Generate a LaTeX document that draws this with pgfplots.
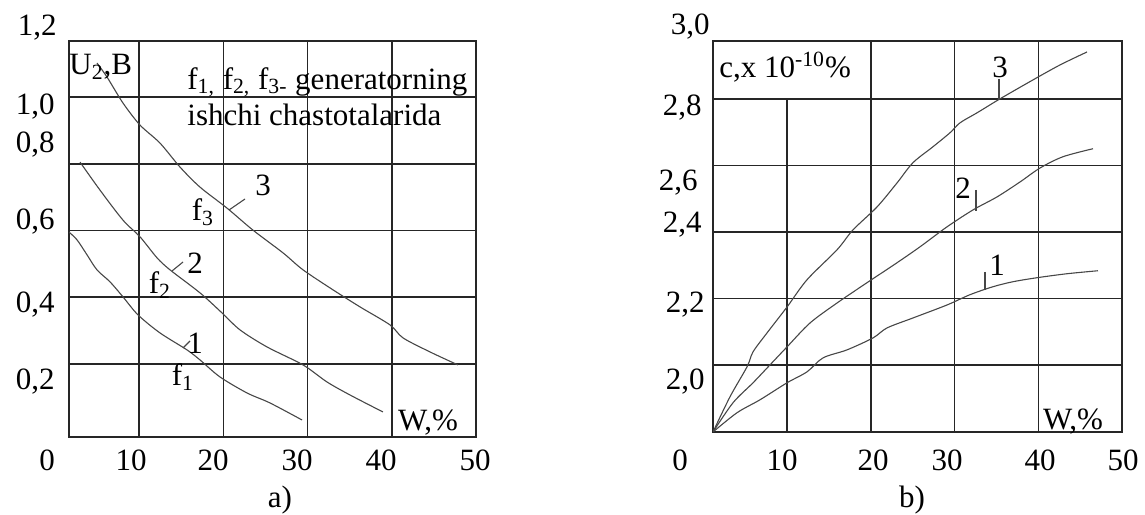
\documentclass[border=0pt]{standalone}
\usepackage{fontspec}
\setmainfont{Liberation Serif}
\usepackage{pgfplots}
\pgfplotsset{compat=1.18}
\begin{document}
\begin{tikzpicture}[every node/.style={font=\fontsize{15.5}{18}\selectfont, inner sep=0pt}]
\useasboundingbox (0,0) rectangle (572.5pt,257pt);
\pgfplotsset{
  panel/.style={
    anchor=south west, scale only axis,
    xticklabels={}, yticklabels={},
    grid=major,
    major grid style={line width=0.75pt, draw=black!85},
    major tick length=0pt,
    axis line style={line width=0.8pt, draw=black!85},
  },
  curve/.style={smooth, tension=0.5, line width=0.55pt, draw=black!72, mark=none},
}
% ---------- panel a ----------
\begin{axis}[panel, at={(34.5pt,38.5pt)}, width=203.5pt, height=198pt,
  xmin=1.69, xmax=50, ymin=-0.019, ymax=1.168,
  xtick={10,20,30,40}, ytick={0.2,0.4,0.6,0.8,1.0}]
\addplot[curve] coordinates {
(5.01,1.102) (6.20,1.060) (8.10,0.982) (10.12,0.916) (12.49,0.862) (14.87,0.790)
(17.24,0.730) (20.45,0.667) (23.53,0.601) (27.09,0.533) (29.47,0.482) (33.03,0.422)
(36.23,0.371) (39.79,0.317) (41.34,0.278) (44.54,0.236) (47.86,0.197)};
\addplot[curve] coordinates {
(3.00,0.805) (5.37,0.721) (8.10,0.631) (10.12,0.581) (12.14,0.518) (13.68,0.482)
(17.24,0.413) (19.85,0.353) (21.99,0.302) (25.19,0.251) (29.47,0.197) (32.31,0.146)
(35.04,0.107) (38.96,0.056)};
\addplot[curve] coordinates {
(1.69,0.595) (2.64,0.572) (3.83,0.527) (5.01,0.482) (6.56,0.446) (8.10,0.401)
(9.88,0.347) (12.49,0.293) (15.70,0.242) (17.24,0.212) (19.61,0.161) (22.82,0.113)
(25.55,0.083) (29.35,0.032)};
\end{axis}
% ---------- panel b ----------
\begin{axis}[panel, at={(356.5pt,41pt)}, width=204.5pt, height=195.5pt,
  xmin=1.16, xmax=50, ymin=1.798, ymax=2.974,
  xtick={20,30,40}, ytick={2.0,2.2,2.4,2.6,2.8}]
\draw[line width=0.75pt, draw=black!85] (axis cs:10,1.798) -- (axis cs:10,2.8);
\addplot[curve] coordinates {
(1.16,1.798) (3.19,1.904) (5.22,1.994) (5.94,2.039) (7.61,2.096) (10.0,2.174)
(12.39,2.256) (15.97,2.346) (17.88,2.406) (20.75,2.475) (23.13,2.547) (25.04,2.608)
(27.43,2.656) (29.46,2.698) (30.66,2.728) (32.69,2.758) (35.43,2.800) (39.37,2.857)
(42.60,2.902) (45.82,2.941)};
\addplot[curve] coordinates {
(1.16,1.798) (3.55,1.886) (5.94,1.946) (7.97,2.000) (10.0,2.054) (12.75,2.126)
(15.97,2.186) (19.55,2.247) (23.13,2.307) (25.88,2.355) (29.10,2.415) (32.21,2.466)
(35.07,2.505) (37.82,2.550) (40.21,2.592) (42.96,2.626) (46.54,2.650)};
\addplot[curve] coordinates {
(1.16,1.798) (4.03,1.856) (6.78,1.895) (10.0,1.946) (12.39,1.979) (14.30,2.021)
(17.16,2.045) (20.27,2.081) (21.94,2.111) (25.04,2.141) (29.10,2.180) (31.85,2.211)
(34.60,2.235) (36.99,2.250) (39.85,2.262) (43.43,2.274) (47.13,2.283)};
\end{axis}
% ---------- text, in image pixel coordinates ----------
\begin{scope}[x=0.5pt, y=-0.5pt, yshift=257pt]
% panel a tick labels
\node[anchor=east] at (57,28) {1,2};
\node[anchor=east] at (55,107) {1,0};
\node[anchor=east] at (55,145) {0,8};
\node[anchor=east] at (55,222) {0,6};
\node[anchor=east] at (55,305) {0,4};
\node[anchor=east] at (55,382) {0,2};
\node at (47,460) {0};
\node at (131,460) {10};
\node at (213,460) {20};
\node at (297,460) {30};
\node at (381,460) {40};
\node at (475,460) {50};
\node at (280,500) {a)};
\node[anchor=west] at (69,67) {U\textsubscript{2},B};
\node[anchor=west] at (187,82) {f\textsubscript{1,} f\textsubscript{2,} f\textsubscript{3-} generatorning};
\node[anchor=west] at (187,115) {ishchi chastotalarida};
\node at (263,185) {3};
\node at (203,212) {f\textsubscript{3}};
\draw[line width=0.55pt, black!72] (229,210) -- (245,199);
\node at (195,263) {2};
\node at (160,285) {f\textsubscript{2}};
\draw[line width=0.55pt, black!72] (172,271) -- (183,262);
\node at (195,343) {1};
\node at (183,377) {f\textsubscript{1}};
\draw[line width=0.55pt, black!72] (183,348) -- (190,341);
\node at (428,423) {W,\%};
% panel b tick labels
\node[anchor=east] at (710,27) {3,0};
\node[anchor=east] at (702,108) {2,8};
\node[anchor=east] at (698,183) {2,6};
\node[anchor=east] at (702,225) {2,4};
\node[anchor=east] at (705,305) {2,2};
\node[anchor=east] at (705,382) {2,0};
\node at (680,460) {0};
\node at (782,460) {10};
\node at (873,460) {20};
\node at (947,460) {30};
\node at (1040,460) {40};
\node at (1123,460) {50};
\node at (912,500) {b)};
\node[anchor=west] at (719,67) {c,x 10\textsuperscript{-10}\%};
\node at (1000,67) {3};
\draw[line width=0.55pt, black!72] (999,79) -- (999,99);
\node at (963,188) {2};
\draw[line width=0.55pt, black!72] (976,190) -- (976,211);
\node at (997,265) {1};
\draw[line width=0.55pt, black!72] (985,272) -- (985,290);
\node at (1073,422) {W,\%};
\end{scope}
\end{tikzpicture}
\end{document}
